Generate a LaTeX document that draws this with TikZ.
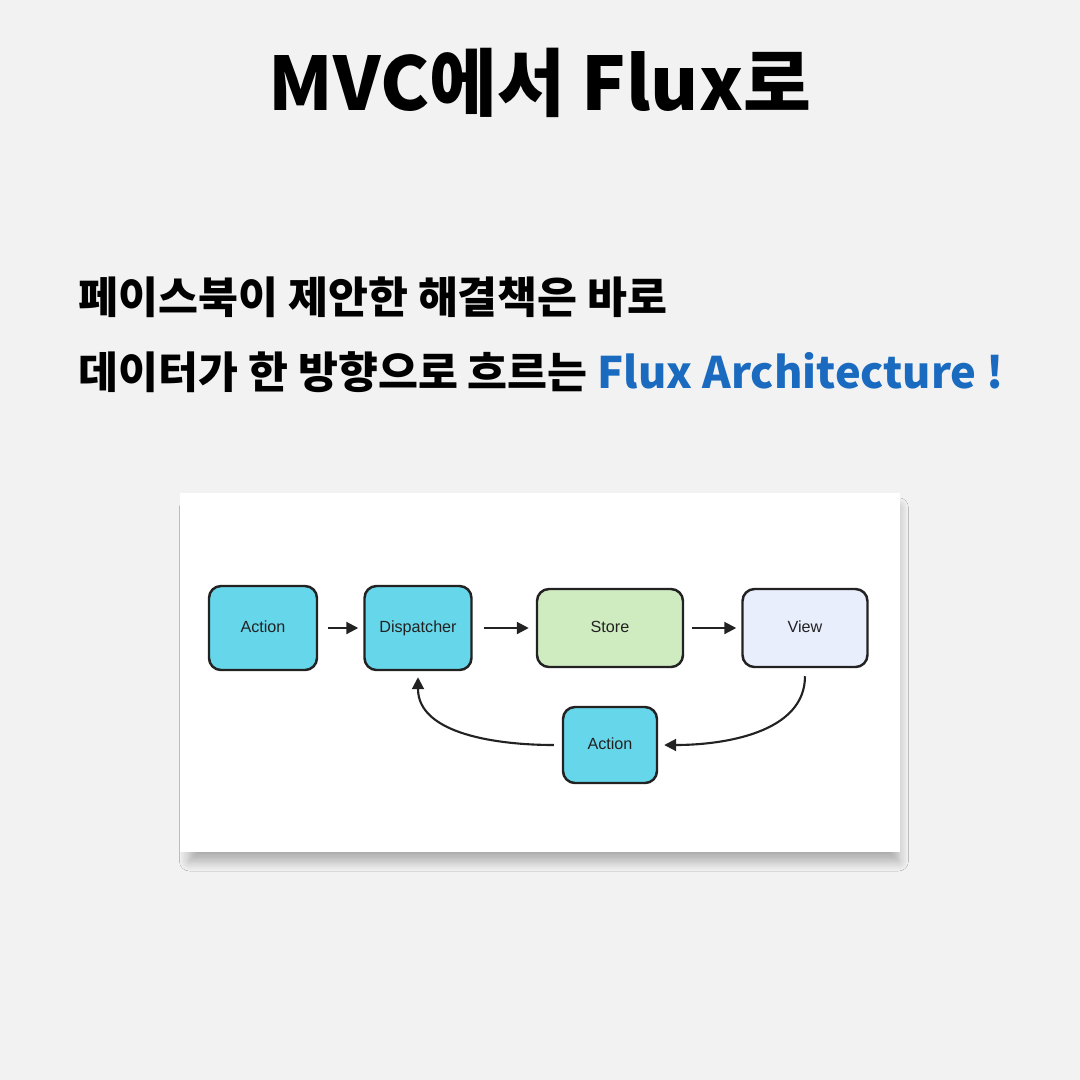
\documentclass[tikz,border=0pt]{standalone}
\usepackage{fontspec}
\newfontfamily\kr{Noto Sans CJK KR}
\newfontfamily\hv{Liberation Sans}
\usetikzlibrary{arrows.meta,shadows.blur}
\definecolor{bgpaper}{HTML}{F2F2F2}
\definecolor{cyanbox}{HTML}{66D6EA}
\definecolor{greenbox}{HTML}{CFEBC0}
\definecolor{viewbox}{HTML}{E8EEFB}
\definecolor{strokec}{HTML}{222222}
\definecolor{fluxblue}{HTML}{1A6BBF}
\tikzset{
  flowbox/.style={draw=strokec, line width=0.7pt, rounded corners=1.2mm, font=\hv\fontsize{4.6}{5}\selectfont, text=strokec, inner sep=0pt, text height=3.3pt, text depth=0.9pt},
  arr/.style={-{Triangle[length=1.2mm,width=1.2mm]}, draw=strokec, line width=0.6pt},
}
\begin{document}
\begin{tikzpicture}[x=0.1mm,y=-0.1mm]
\useasboundingbox (0,0) rectangle (1080,1080);
\fill[bgpaper] (0,0) rectangle (1080,1080);
% title
\node[font=\kr\bfseries\fontsize{21}{24}\selectfont] (title) at (540,83) {MVC에서 Flux로};
% subtitle lines
\node[anchor=west, font=\kr\bfseries\fontsize{12.35}{15}\selectfont, inner sep=0pt] (line1) at (78,297) {페이스북이 제안한 해결책은 바로};
\node[anchor=west, font=\kr\bfseries\fontsize{12.35}{15}\selectfont, inner sep=0pt] (line2) at (78,372) {데이터가 한 방향으로 흐르는 \textcolor{fluxblue}{Flux Architecture !}};
% panel
\node[fill=white, minimum width=72mm, minimum height=35.9mm, inner sep=0pt, blur shadow={shadow xshift=0.4mm, shadow yshift=-1.2mm, shadow scale=0.985, shadow blur radius=1.0mm, shadow blur steps=12, shadow opacity=30}] (panel) at (540,672.5) {};
% boxes
\node[flowbox, fill=cyanbox, minimum width=10.8mm, minimum height=8.4mm] (act1) at (263,628) {Action};
\node[flowbox, fill=cyanbox, minimum width=10.7mm, minimum height=8.4mm] (disp) at (418,628) {Dispatcher};
\node[flowbox, fill=greenbox, minimum width=14.6mm, minimum height=7.8mm] (store) at (610,628) {Store};
\node[flowbox, fill=viewbox, minimum width=12.5mm, minimum height=7.8mm] (view) at (805,628) {View};
\node[flowbox, fill=cyanbox, minimum width=9.4mm, minimum height=7.6mm] (act2) at (610,745) {Action};
% arrows
\draw[arr, shorten <=1.0mm, shorten >=0.5mm] (act1) -- (disp);
\draw[arr, shorten <=1.1mm, shorten >=0.7mm] (disp) -- (store);
\draw[arr, shorten <=0.8mm, shorten >=0.5mm] (store) -- (view);
\draw[arr, shorten <=0.8mm, shorten >=0.6mm] (view) to[out=-90,in=0] (act2);
\draw[arr, shorten <=0.8mm, shorten >=0.6mm] (act2) to[out=180,in=-90] (disp);
\end{tikzpicture}
\end{document}
